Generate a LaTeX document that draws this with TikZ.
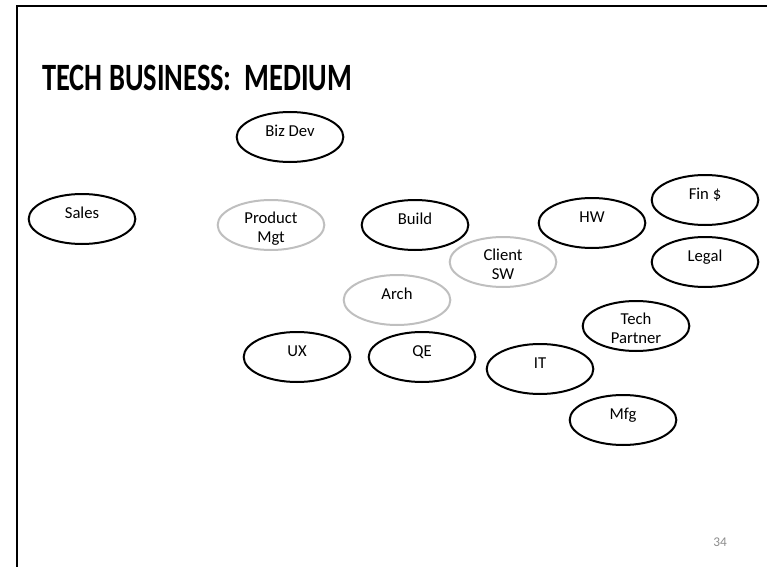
\documentclass[tikz,border=0pt]{standalone}
\usepackage{fontspec}
\setmainfont{Carlito}
\usepackage{xcolor}
\usepackage{graphicx}
\usepackage{tikz}
\usetikzlibrary{shapes.geometric}
\definecolor{ink}{HTML}{000000}
\definecolor{soft}{HTML}{BFBFBF}
\definecolor{pgnum}{HTML}{8C8C8C}
\tikzset{
  oval/.style={ellipse, draw=ink, line width=1.5pt, minimum width=80pt, minimum height=37.5pt,
    inner sep=0pt, font=\fontsize{12.5}{14.2}\selectfont, align=center},
  softoval/.style={oval, draw=soft},
  oneline/.style={text height=8pt, text depth=8.2pt},
  twoline/.style={text height=26pt, text depth=0pt},
  frame/.style={draw=ink, line width=1.8pt},
  lab/.style={text=ink}
}

\begin{document}
\begin{tikzpicture}[x=0.75pt, y=-0.75pt]
  \useasboundingbox (0,0) rectangle (767,567);
  \draw[frame] (17,567) -- (17,6) -- (767,6);

  \node[lab, anchor=base west, inner sep=0pt, font=\fontsize{29}{34}\selectfont\bfseries] (title) at (42,90)
    {\scalebox{0.735}[1]{TECH BUSINESS:\ \ MEDIUM}};

  % Groups
  \node[oval, oneline] (bizdev) at (290,137) {Biz Dev};
  \node[oval, oneline] (sales) at (82,219) {Sales};
  \node[softoval, twoline] (prodmgt) at (271,225) {Product\\Mgt};
  \node[oval, oneline] (build) at (415,225) {Build};
  \node[softoval, twoline] (clientsw) at (503,262) {Client\\SW};
  \node[oval, oneline] (hw) at (592,223) {HW};
  \node[oval, oneline] (fin) at (705,200) {Fin \$};
  \node[oval, oneline] (legal) at (705,262) {Legal};
  \node[softoval, oneline] (arch) at (397,300) {Arch};
  \node[oval, twoline] (techpartner) at (636,326) {Tech\\Partner};
  \node[oval, oneline] (ux) at (297,357) {UX};
  \node[oval, oneline] (qe) at (422,357) {QE};
  \node[oval, oneline] (it) at (540,369) {IT};
  \node[oval, oneline] (mfg) at (623,420) {Mfg};

  \node[text=pgnum, font=\fontsize{10}{12}\selectfont] (page) at (720,542) {34};
\end{tikzpicture}
\end{document}
